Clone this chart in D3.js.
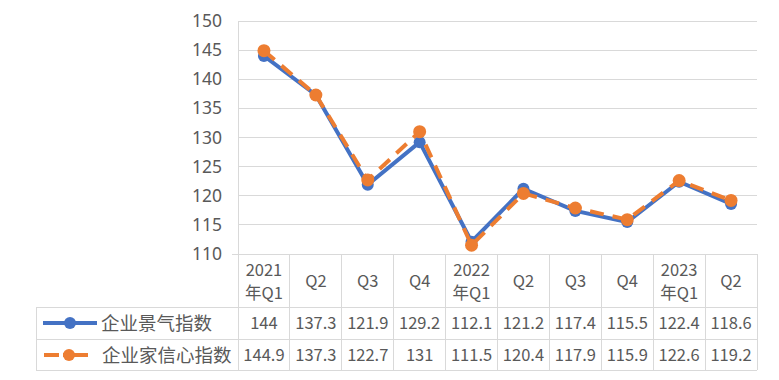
<!DOCTYPE html>
<html><head><meta charset="utf-8">
<script src="https://cdn.jsdelivr.net/npm/d3@7"></script>
<style>body{margin:0;background:#fff;}svg{display:block;font-family:"Noto Sans CJK SC","Noto Sans",sans-serif;}</style>
</head><body>
<svg id="c" width="779" height="380"></svg>
<script>
const catTop = ["2021","Q2","Q3","Q4","2022","Q2","Q3","Q4","2023","Q2"];
const catBottom = ["年Q1","","","","年Q1","","","","年Q1",""];
const seriesNames = ["企业景气指数","企业家信心指数"];
const businessIndex = [144,137.3,121.9,129.2,112.1,121.2,117.4,115.5,122.4,118.6];
const confidenceIndex = [144.9,137.3,122.7,131,111.5,120.4,117.9,115.9,122.6,119.2];
const yTicks = [110,115,120,125,130,135,140,145,150];
const colors = ["#4472C4","#ED7D31"];

(function(){
const svg = d3.select("#c");
const pLeft = 238, pRight = 757, pTop = 21, pBottom = 254;
const x = d3.scaleBand().domain(d3.range(catTop.length)).range([pLeft,pRight]);
const y = d3.scaleLinear().domain([110,150]).range([pBottom,pTop]);
const grid = "#d9d9d9", txt = "#595959";

// gridlines
svg.append("g").selectAll("line").data(yTicks).join("line")
  .attr("x1",pLeft).attr("x2",pRight).attr("y1",d=>y(d)).attr("y2",d=>y(d))
  .attr("stroke",grid).attr("stroke-width",1).attr("shape-rendering","crispEdges");
// y axis
const ya = svg.append("g").attr("transform",`translate(${pLeft},0)`)
  .call(d3.axisLeft(y).tickValues(yTicks).tickSize(0).tickPadding(16));
ya.select(".domain").attr("stroke",grid).attr("shape-rendering","crispEdges");
ya.selectAll("text").attr("fill",txt).attr("font-size","17.5px").attr("font-family","'Noto Sans','Noto Sans CJK SC',sans-serif");

// table
const tb = svg.append("g").attr("shape-rendering","crispEdges");
const row1 = 307, row2 = 339, row3 = 370, tLeft = 36;
tb.append("line").attr("x1",232).attr("x2",pRight).attr("y1",pBottom).attr("y2",pBottom).attr("stroke",grid);
[row1,row2,row3].forEach(r=>tb.append("line").attr("x1",tLeft).attr("x2",pRight).attr("y1",r).attr("y2",r).attr("stroke",grid));
tb.append("line").attr("x1",tLeft).attr("x2",tLeft).attr("y1",row1).attr("y2",row3).attr("stroke",grid);
const bounds = d3.range(catTop.length).map(i=>x(i)).concat([pRight]);
tb.selectAll(".v").data(bounds).join("line").attr("class","v")
  .attr("x1",d=>d).attr("x2",d=>d).attr("y1",pBottom).attr("y2",row3).attr("stroke",grid);

// header
const hd = svg.append("g").attr("fill",txt).attr("font-size","16.5px").attr("text-anchor","middle");
catTop.forEach((t,i)=>{
  const cx = x(i)+x.bandwidth()/2;
  if(catBottom[i]){
    hd.append("text").attr("x",cx).attr("y",276).text(t);
    hd.append("text").attr("x",cx).attr("y",299).text(catBottom[i]);
  } else {
    hd.append("text").attr("x",cx).attr("y",287).text(t);
  }
});
// values
[businessIndex,confidenceIndex].forEach((arr,k)=>{
  const cy = k===0 ? 329 : 361;
  svg.append("g").selectAll("text").data(arr).join("text")
    .attr("x",(d,i)=>x(i)+x.bandwidth()/2).attr("y",cy)
    .attr("text-anchor","middle").attr("fill",txt).attr("font-size","16.5px")
    .text(d=>d);
});
// legend in table
const lg = svg.append("g");
lg.append("line").attr("x1",43).attr("x2",97).attr("y1",323).attr("y2",323).attr("stroke",colors[0]).attr("stroke-width",4);
lg.append("circle").attr("cx",70).attr("cy",323).attr("r",6).attr("fill",colors[0]);
lg.append("text").attr("x",101).attr("y",330).attr("fill",txt).attr("font-size","18.5px").text(seriesNames[0]);
lg.append("line").attr("x1",44).attr("x2",88).attr("y1",355).attr("y2",355).attr("stroke",colors[1]).attr("stroke-width",4).attr("stroke-dasharray","15,4,30");
lg.append("circle").attr("cx",69).attr("cy",355).attr("r",6).attr("fill",colors[1]);
lg.append("text").attr("x",102).attr("y",362).attr("fill",txt).attr("font-size","18.5px").text(seriesNames[1]);

// lines
const line = d3.line().x((d,i)=>x(i)+x.bandwidth()/2).y(d=>y(d));
[businessIndex,confidenceIndex].forEach((arr,k)=>{
  const g = svg.append("g");
  g.append("path").attr("d",line(arr)).attr("fill","none").attr("stroke",colors[k])
    .attr("stroke-width",4).attr("stroke-linejoin","round")
    .attr("stroke-dasharray",k===1?"14,9":null);
  g.selectAll("circle").data(arr).join("circle")
    .attr("cx",(d,i)=>x(i)+x.bandwidth()/2).attr("cy",d=>y(d))
    .attr("r",k===0?6:6.5).attr("fill",colors[k]);
});
})();
</script>
</body></html>
